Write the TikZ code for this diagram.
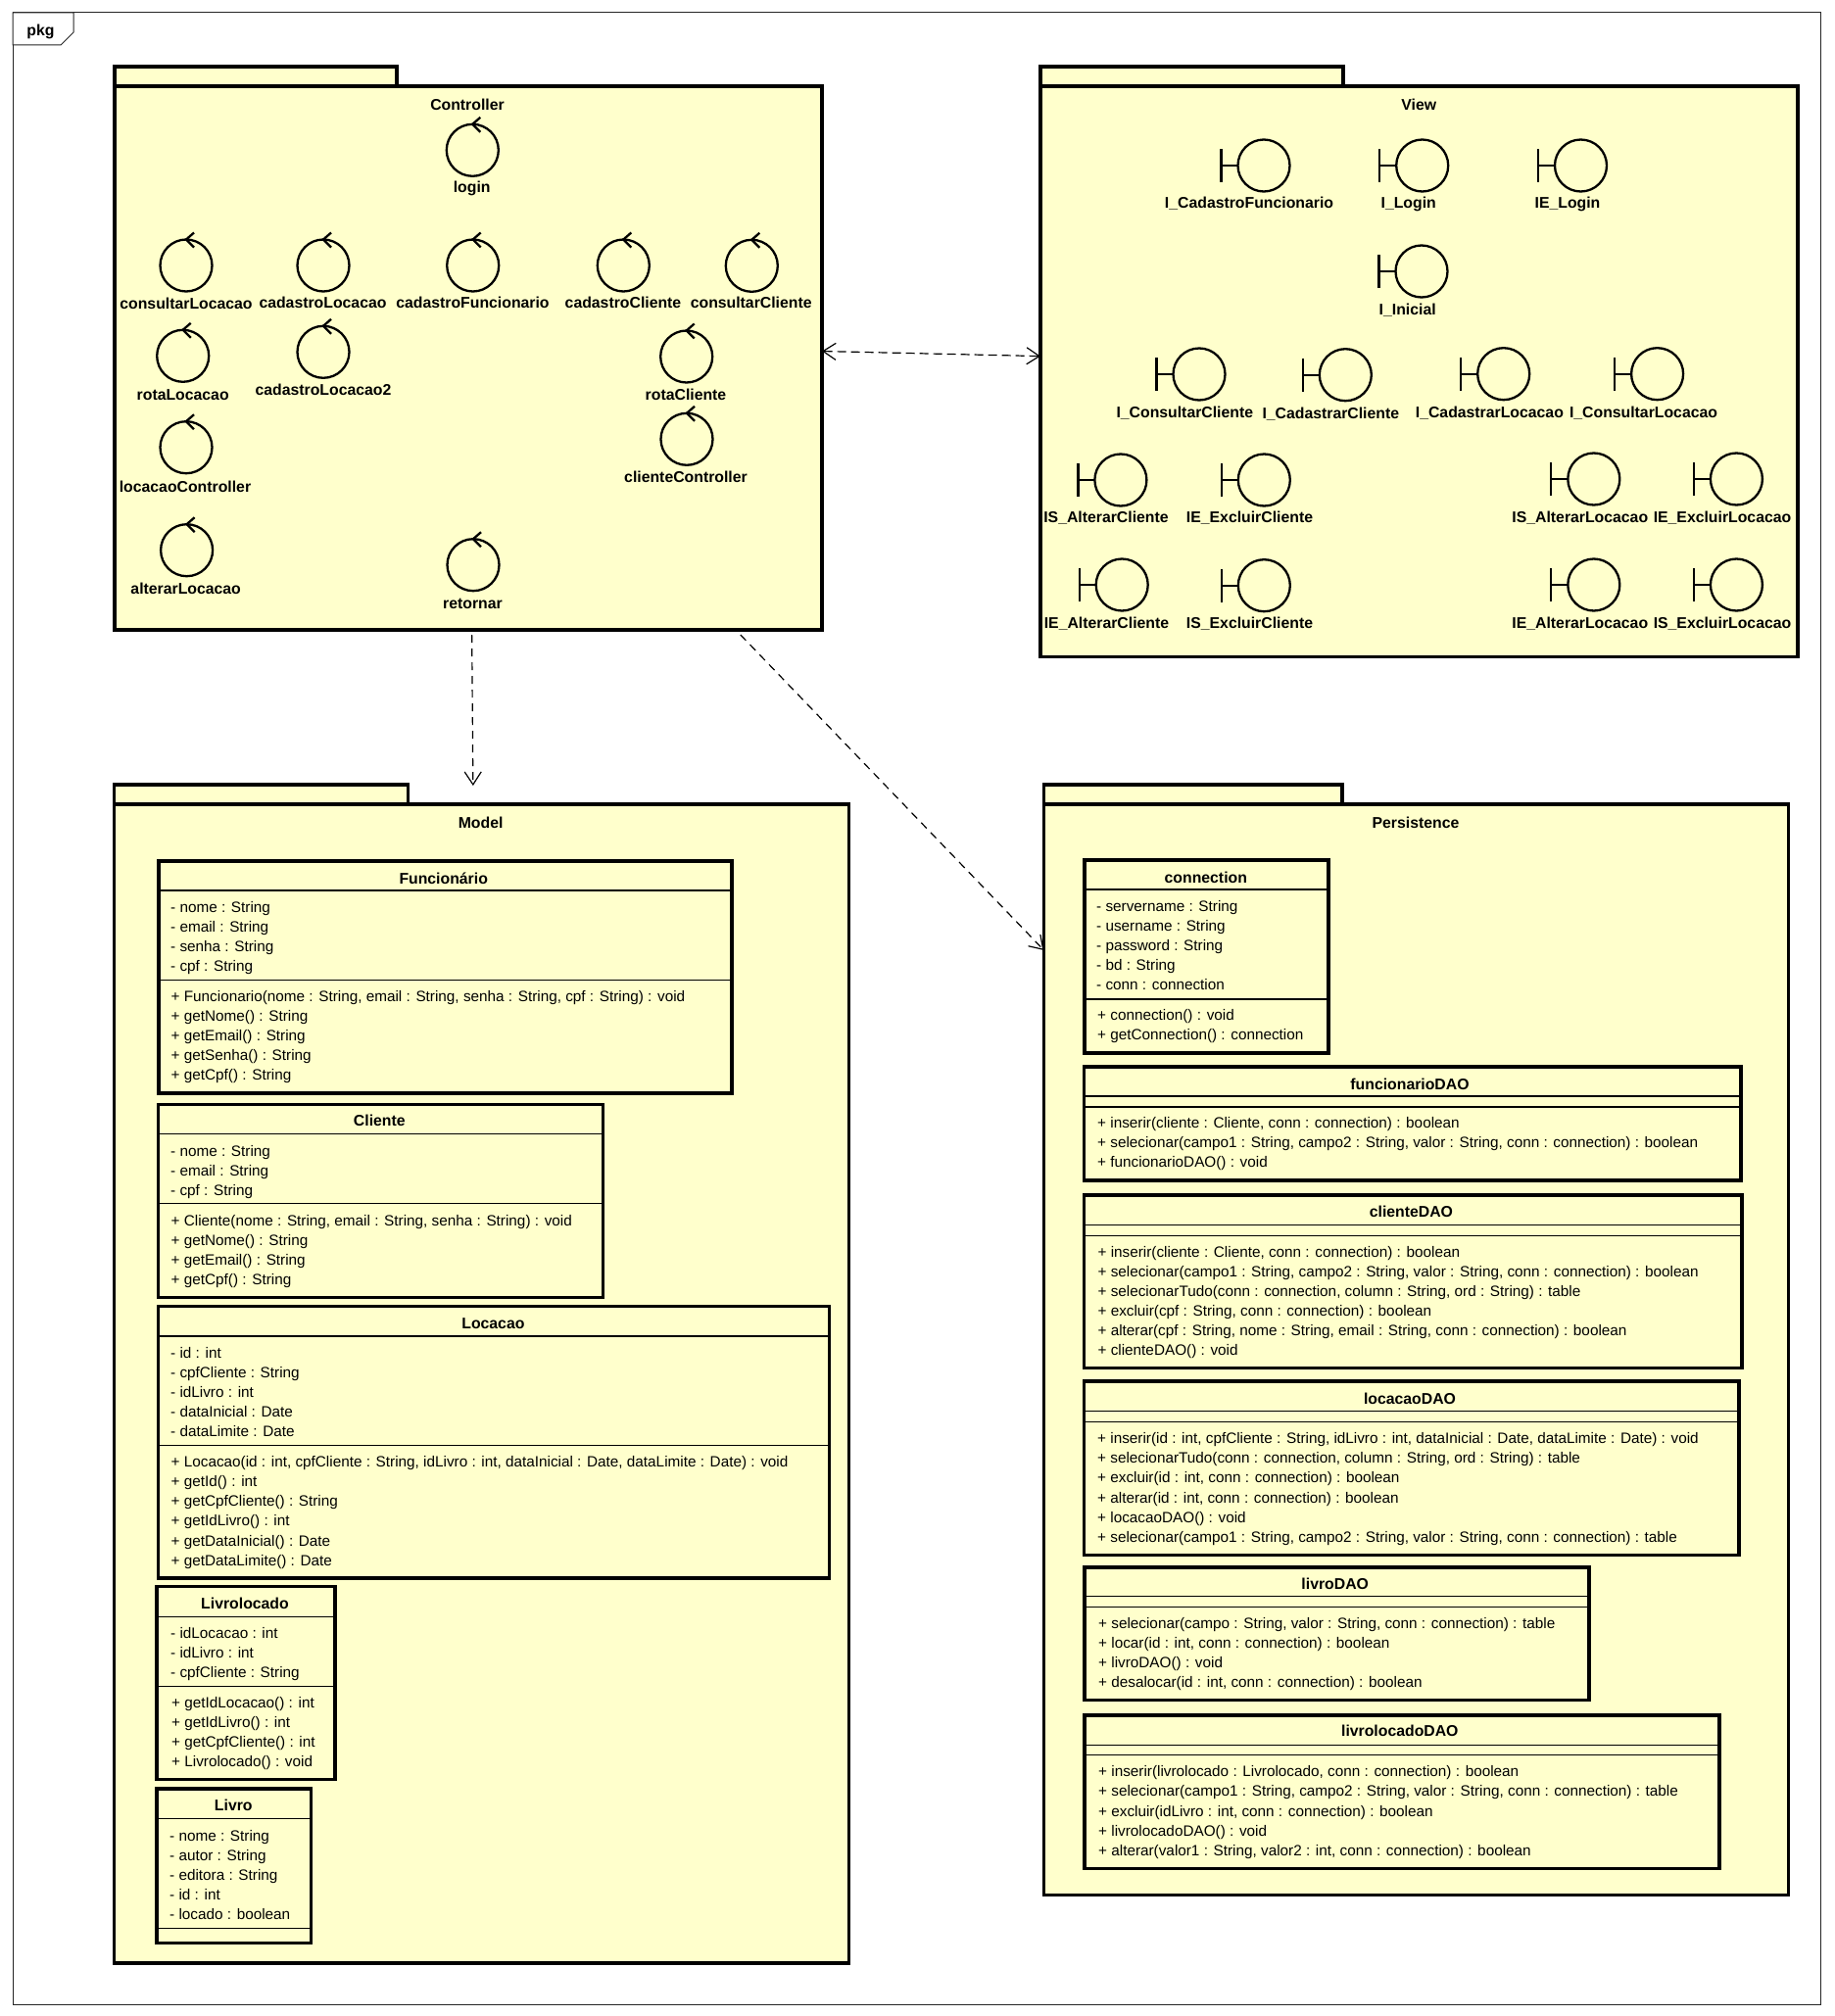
\documentclass[tikz,border=0pt]{standalone}
\usepackage{fontspec}
\setmainfont{Liberation Sans}
\usetikzlibrary{arrows.meta,calc}
\definecolor{pkgyellow}{RGB}{255,255,204}

\begin{document}
\begin{tikzpicture}[
      x=1pt, y=-1pt,
      pkgbody/.style={draw, line width=3.2pt, fill=pkgyellow, anchor=north west, inner sep=0pt, outer sep=0pt},
      pkgtab/.style={pkgbody, anchor=south west, minimum height=20pt},
      classbox/.style={pkgbody},
      classsep/.style={line width=1.4pt},
      ctrlicon/.style={circle, draw, line width=2.3pt, minimum size=53pt, inner sep=0pt, outer sep=0pt},
      iconline/.style={line width=2.3pt},
      boldname/.style={font=\fontsize{15.8}{20}\selectfont\bfseries, inner sep=0pt, text height=11pt, text depth=0pt},
      members/.style={font=\fontsize{15.3}{20}\selectfont, anchor=north west, align=left, inner sep=0pt, yshift=-2pt,
        execute at begin node=\strut},
      deparrow/.style={line width=1.2pt, dash pattern=on 9pt off 5pt, {Straight Barb[length=13pt,width=17pt,line width=1.2pt]}-{Straight Barb[length=13pt,width=17pt,line width=1.2pt]}},
      depline/.style={line width=1.2pt, dash pattern=on 8pt off 6pt, -{Straight Barb[length=13pt,width=17pt,line width=1.2pt]}}
    ]
    \useasboundingbox (0,0) rectangle (1872,2058);

    % Outer frame
    \node[draw=black!85, line width=1pt, fill=white, anchor=north west, inner sep=0pt, outer sep=0pt,
      minimum width=1845pt, minimum height=2033pt] (frame) at (13,13) {};
    \draw[draw=black!85, line width=1pt, fill=white] (frame.north west) -- (75,13) -- (75,33) -- (62,46) -- (13,46) -- cycle;
    \node[boldname] (framename) at (41.5,31.5) {pkg};

    % Packages
    \node[pkgtab, minimum width=288pt] (ctrltab) at (117,88) {};
    \node[pkgbody, minimum width=722pt, minimum height=555pt] (ctrl) at (117,88) {};
    \node[boldname] (ctrlname) at (477,106.5) {Controller};

    \node[pkgtab, minimum width=309pt] (viewtab) at (1062,88) {};
    \node[pkgbody, minimum width=773pt, minimum height=582.7pt] (view) at (1062,88) {};
    \node[boldname] (viewname) at (1448.3,107) {View};

    \node[pkgtab, minimum width=299.7pt] (modeltab) at (116.8,821) {};
    \node[pkgbody, minimum width=749.5pt, minimum height=1183pt] (model) at (116.8,821) {};
    \node[boldname] (modelname) at (490.6,839.8) {Model};

    \node[pkgtab, minimum width=304.5pt] (persisttab) at (1065.5,821) {};
    \node[pkgbody, minimum width=760pt, minimum height=1113.3pt] (persist) at (1065.5,821) {};
    \node[boldname] (persistname) at (1445,839.8) {Persistence};

    % Controller icons
    \node[ctrlicon] (login) at (482.3,153.3) {};
    \node[boldname] (loginlbl) at (481.7,191) {login};
    \node[ctrlicon] (consultarLocacao) at (190,271) {};
    \node[boldname] (consultarLocacaolbl) at (190,310) {consultarLocacao};
    \node[ctrlicon] (cadastroLocacao) at (330,271) {};
    \node[boldname] (cadastroLocacaolbl) at (329.5,309.3) {cadastroLocacao};
    \node[ctrlicon] (cadastroFuncionario) at (482.7,271) {};
    \node[boldname] (cadastroFuncionariolbl) at (482.5,309.3) {cadastroFuncionario};
    \node[ctrlicon] (cadastroCliente) at (636.3,271) {};
    \node[boldname] (cadastroClientelbl) at (636,309.3) {cadastroCliente};
    \node[ctrlicon] (consultarCliente) at (767.3,271.3) {};
    \node[boldname] (consultarClientelbl) at (766.7,309.3) {consultarCliente};
    \node[ctrlicon] (rotaLocacao) at (186.7,363.3) {};
    \node[boldname] (rotaLocacaolbl) at (186.7,402.5) {rotaLocacao};
    \node[ctrlicon] (cadastroLocacaoB) at (330,359.3) {};
    \node[boldname] (cadastroLocacaoBlbl) at (330,398) {cadastroLocacao2};
    \node[ctrlicon] (rotaCliente) at (700.7,364) {};
    \node[boldname] (rotaClientelbl) at (700,402.5) {rotaCliente};
    \node[ctrlicon] (locacaoController) at (190,456.7) {};
    \node[boldname] (locacaoControllerlbl) at (189,496.5) {locacaoController};
    \node[ctrlicon] (clienteController) at (701,448.3) {};
    \node[boldname] (clienteControllerlbl) at (700,487.3) {clienteController};
    \node[ctrlicon] (alterarLocacao) at (190.6,561.7) {};
    \node[boldname] (alterarLocacaolbl) at (189.7,600.5) {alterarLocacao};
    \node[ctrlicon] (retornar) at (483,576.7) {};
    \node[boldname] (retornarlbl) at (482.5,615.5) {retornar};
    \foreach \icon in {login,consultarLocacao,cadastroLocacao,cadastroFuncionario,cadastroCliente,consultarCliente,
      rotaLocacao,cadastroLocacaoB,rotaCliente,locacaoController,clienteController,alterarLocacao,retornar}
      \draw[iconline] ($(\icon.north)+(8,-7)$) -- (\icon.north) -- ($(\icon.north)+(8,8)$);

    % View icons
    \node[ctrlicon] (ICadastroFuncionario) at (1290,169) {};
    \node[boldname] (ICadastroFuncionariolbl) at (1275,207.3) {I\_CadastroFuncionario};
    \node[ctrlicon] (ILogin) at (1451.7,169) {};
    \node[boldname] (ILoginlbl) at (1437.7,207.3) {I\_Login};
    \node[ctrlicon] (IELogin) at (1613.5,169) {};
    \node[boldname] (IELoginlbl) at (1600,207.3) {IE\_Login};
    \node[ctrlicon] (IInicial) at (1451,277) {};
    \node[boldname] (IInicialbl) at (1436.7,315.7) {I\_Inicial};
    \node[ctrlicon] (IConsultarCliente) at (1224,382) {};
    \node[boldname] (IConsultarClientelbl) at (1209.3,420.7) {I\_ConsultarCliente};
    \node[ctrlicon] (ICadastrarCliente) at (1373.3,382.7) {};
    \node[boldname] (ICadastrarClientelbl) at (1358.3,421.7) {I\_CadastrarCliente};
    \node[ctrlicon] (ICadastrarLocacao) at (1534.7,381.7) {};
    \node[boldname] (ICadastrarLocacaolbl) at (1520.4,421) {I\_CadastrarLocacao};
    \node[ctrlicon] (IConsultarLocacao) at (1691.6,381.7) {};
    \node[boldname] (IConsultarLocacaolbl) at (1677.5,421) {I\_ConsultarLocacao};
    \node[ctrlicon] (ISAlterarCliente) at (1143.9,490) {};
    \node[boldname] (ISAlterarClientelbl) at (1129,528.3) {IS\_AlterarCliente};
    \node[ctrlicon] (IEExcluirCliente) at (1290.3,490) {};
    \node[boldname] (IEExcluirClientelbl) at (1275.5,528.3) {IE\_ExcluirCliente};
    \node[ctrlicon] (ISAlterarLocacao) at (1626.8,489) {};
    \node[boldname] (ISAlterarLocacaolbl) at (1612.8,527.7) {IS\_AlterarLocacao};
    \node[ctrlicon] (IEExcluirLocacao) at (1772.4,489) {};
    \node[boldname] (IEExcluirLocacaolbl) at (1758,527.7) {IE\_ExcluirLocacao};
    \node[ctrlicon] (IEAlterarCliente) at (1145.2,597) {};
    \node[boldname] (IEAlterarClientelbl) at (1129.5,635.7) {IE\_AlterarCliente};
    \node[ctrlicon] (ISExcluirCliente) at (1290.3,597.7) {};
    \node[boldname] (ISExcluirClientelbl) at (1275.5,636.3) {IS\_ExcluirCliente};
    \node[ctrlicon] (IEAlterarLocacao) at (1626.8,597) {};
    \node[boldname] (IEAlterarLocacaolbl) at (1612.8,636) {IE\_AlterarLocacao};
    \node[ctrlicon] (ISExcluirLocacao) at (1772.4,597) {};
    \node[boldname] (ISExcluirLocacaolbl) at (1758,636) {IS\_ExcluirLocacao};
    \foreach \icon in {ICadastroFuncionario,ILogin,IELogin,IInicial,IConsultarCliente,ICadastrarCliente,ICadastrarLocacao,
      IConsultarLocacao,ISAlterarCliente,IEExcluirCliente,ISAlterarLocacao,IEExcluirLocacao,IEAlterarCliente,
      ISExcluirCliente,IEAlterarLocacao,ISExcluirLocacao}
      \draw[iconline] (\icon.west) -- ++(-17,0) ++(0,-17) -- ++(0,34);

    % Model classes
    \node[classbox, minimum width=585pt, minimum height=237pt] (funcionario) at (162,879) {};
    \node[boldname] (funcionarioname) at (452.7,897) {Funcionário};
    \draw[classsep] (funcionario.west |- 0,909) -- (funcionario.east |- 0,909);
    \draw[classsep] (funcionario.west |- 0,1000.7) -- (funcionario.east |- 0,1000.7);
    \node[members] (funcionarioattrs) at (174,918.6)
      {- nome : String\\- email : String\\- senha : String\\- cpf : String};
    \node[members] (funcionarioops) at (174.5,1009.6)
      {+ Funcionario(nome : String, email : String, senha : String, cpf : String) : void\\
       + getNome() : String\\+ getEmail() : String\\+ getSenha() : String\\+ getCpf() : String};

    \node[classbox, minimum width=454.2pt, minimum height=197pt] (cliente) at (161.5,1127.3) {};
    \node[boldname] (clientename) at (387.3,1144.3) {Cliente};
    \draw[classsep] (cliente.west |- 0,1157.3) -- (cliente.east |- 0,1157.3);
    \draw[classsep] (cliente.west |- 0,1228.3) -- (cliente.east |- 0,1228.3);
    \node[members] (clienteattrs) at (174,1167.3)
      {- nome : String\\- email : String\\- cpf : String};
    \node[members] (clienteops) at (174.5,1238.3)
      {+ Cliente(nome : String, email : String, senha : String) : void\\
       + getNome() : String\\+ getEmail() : String\\+ getCpf() : String};

    \node[classbox, minimum width=685pt, minimum height=277.7pt] (locacao) at (161.5,1333.3) {};
    \node[boldname] (locacaoname) at (503.4,1350.7) {Locacao};
    \draw[classsep] (locacao.west |- 0,1364) -- (locacao.east |- 0,1364);
    \draw[classsep] (locacao.west |- 0,1475.3) -- (locacao.east |- 0,1475.3);
    \node[members] (locacaoattrs) at (174,1373.3)
      {- id : int\\- cpfCliente : String\\- idLivro : int\\- dataInicial : Date\\- dataLimite : Date};
    \node[members] (locacaoops) at (174.5,1483.9)
      {+ Locacao(id : int, cpfCliente : String, idLivro : int, dataInicial : Date, dataLimite : Date) : void\\
       + getId() : int\\+ getCpfCliente() : String\\+ getIdLivro() : int\\[1pt]+ getDataInicial() : Date\\+ getDataLimite() : Date};

    \node[classbox, minimum width=182pt, minimum height=197.4pt] (livrolocado) at (160,1619.3) {};
    \node[boldname] (livrolocadoname) at (250,1636.7) {Livrolocado};
    \draw[classsep] (livrolocado.west |- 0,1650.7) -- (livrolocado.east |- 0,1650.7);
    \draw[classsep] (livrolocado.west |- 0,1721.7) -- (livrolocado.east |- 0,1721.7);
    \node[members] (livrolocadoattrs) at (174,1659.3)
      {- idLocacao : int\\- idLivro : int\\- cpfCliente : String};
    \node[members] (livrolocadoops) at (175,1729.9)
      {+ getIdLocacao() : int\\+ getIdLivro() : int\\+ getCpfCliente() : int\\+ Livrolocado() : void};

    \node[classbox, minimum width=157.7pt, minimum height=157.3pt] (livro) at (160,1826) {};
    \node[boldname] (livroname) at (238.3,1843.3) {Livro};
    \draw[classsep] (livro.west |- 0,1856.7) -- (livro.east |- 0,1856.7);
    \draw[classsep] (livro.west |- 0,1968.7) -- (livro.east |- 0,1968.7);
    \node[members] (livroattrs) at (173,1865.9)
      {- nome : String\\- autor : String\\- editora : String\\- id : int\\- locado : boolean};

    % Persistence classes
    \node[classbox, minimum width=249pt, minimum height=197pt] (connection) at (1107,878) {};
    \node[boldname] (connectionname) at (1230.8,895.7) {connection};
    \draw[classsep] (connection.west |- 0,908) -- (connection.east |- 0,908);
    \draw[classsep] (connection.west |- 0,1020) -- (connection.east |- 0,1020);
    \node[members] (connectionattrs) at (1119,917.3)
      {- servername : String\\- username : String\\- password : String\\- bd : String\\- conn : connection};
    \node[members] (connectionops) at (1120,1028.6)
      {+ connection() : void\\+ getConnection() : connection};

    \node[classbox, minimum width=670.5pt, minimum height=116pt] (funcionarioDAO) at (1106.5,1089) {};
    \node[boldname] (funcionarioDAOname) at (1439,1106.7) {funcionarioDAO};
    \draw[classsep] (funcionarioDAO.west |- 0,1119) -- (funcionarioDAO.east |- 0,1119);
    \draw[classsep] (funcionarioDAO.west |- 0,1130) -- (funcionarioDAO.east |- 0,1130);
    \node[members] (funcionarioDAOops) at (1120,1138.6)
      {+ inserir(cliente : Cliente, conn : connection) : boolean\\
       + selecionar(campo1 : String, campo2 : String, valor : String, conn : connection) : boolean\\
       + funcionarioDAO() : void};

    \node[classbox, minimum width=671.5pt, minimum height=176.7pt] (clienteDAO) at (1106.5,1220) {};
    \node[boldname] (clienteDAOname) at (1440.4,1236.7) {clienteDAO};
    \draw[classsep] (clienteDAO.west |- 0,1250.7) -- (clienteDAO.east |- 0,1250.7);
    \draw[classsep] (clienteDAO.west |- 0,1261.7) -- (clienteDAO.east |- 0,1261.7);
    \node[members] (clienteDAOops) at (1120.4,1269.9)
      {+ inserir(cliente : Cliente, conn : connection) : boolean\\
       + selecionar(campo1 : String, campo2 : String, valor : String, conn : connection) : boolean\\
       + selecionarTudo(conn : connection, column : String, ord : String) : table\\
       + excluir(cpf : String, conn : connection) : boolean\\
       + alterar(cpf : String, nome : String, email : String, conn : connection) : boolean\\
       + clienteDAO() : void};

    \node[classbox, minimum width=668.5pt, minimum height=177.7pt] (locacaoDAO) at (1106.5,1410) {};
    \node[boldname] (locacaoDAOname) at (1439,1427.7) {locacaoDAO};
    \draw[classsep] (locacaoDAO.west |- 0,1440.3) -- (locacaoDAO.east |- 0,1440.3);
    \draw[classsep] (locacaoDAO.west |- 0,1451.3) -- (locacaoDAO.east |- 0,1451.3);
    \node[members] (locacaoDAOops) at (1120,1459.9)
      {+ inserir(id : int, cpfCliente : String, idLivro : int, dataInicial : Date, dataLimite : Date) : void\\
       + selecionarTudo(conn : connection, column : String, ord : String) : table\\
       + excluir(id : int, conn : connection) : boolean\\[1pt]
       + alterar(id : int, conn : connection) : boolean\\
       + locacaoDAO() : void\\
       + selecionar(campo1 : String, campo2 : String, valor : String, conn : connection) : table};

    \node[classbox, minimum width=515pt, minimum height=135.7pt] (livroDAO) at (1107,1600) {};
    \node[boldname] (livroDAOname) at (1362.7,1616.7) {livroDAO};
    \draw[classsep] (livroDAO.west |- 0,1629.3) -- (livroDAO.east |- 0,1629.3);
    \draw[classsep] (livroDAO.west |- 0,1640.3) -- (livroDAO.east |- 0,1640.3);
    \node[members] (livroDAOops) at (1121,1649.3)
      {+ selecionar(campo : String, valor : String, conn : connection) : table\\
       + locar(id : int, conn : connection) : boolean\\
       + livroDAO() : void\\
       + desalocar(id : int, conn : connection) : boolean};

    \node[classbox, minimum width=648pt, minimum height=156.3pt] (livrolocadoDAO) at (1107,1751) {};
    \node[boldname] (livrolocadoDAOname) at (1428.8,1767.3) {livrolocadoDAO};
    \draw[classsep] (livrolocadoDAO.west |- 0,1781.3) -- (livrolocadoDAO.east |- 0,1781.3);
    \draw[classsep] (livrolocadoDAO.west |- 0,1791.7) -- (livrolocadoDAO.east |- 0,1791.7);
    \node[members] (livrolocadoDAOops) at (1121,1799.9)
      {+ inserir(livrolocado : Livrolocado, conn : connection) : boolean\\
       + selecionar(campo1 : String, campo2 : String, valor : String, conn : connection) : table\\[1pt]
       + excluir(idLivro : int, conn : connection) : boolean\\
       + livrolocadoDAO() : void\\
       + alterar(valor1 : String, valor2 : int, conn : connection) : boolean};

    % Arrows
    \draw[deparrow] (ctrl.east |- 0,358.5) -- (view.west |- 0,363.6);
    \draw[depline, shorten <=5pt, shorten >=19pt] (ctrl.south -| 481.6,0) -- (model.north -| 483,0);
    \draw[depline, shorten <=7pt] (ctrl.south -| 751,0) -- (persist.west |- 0,970);
  \end{tikzpicture}
\end{document}
